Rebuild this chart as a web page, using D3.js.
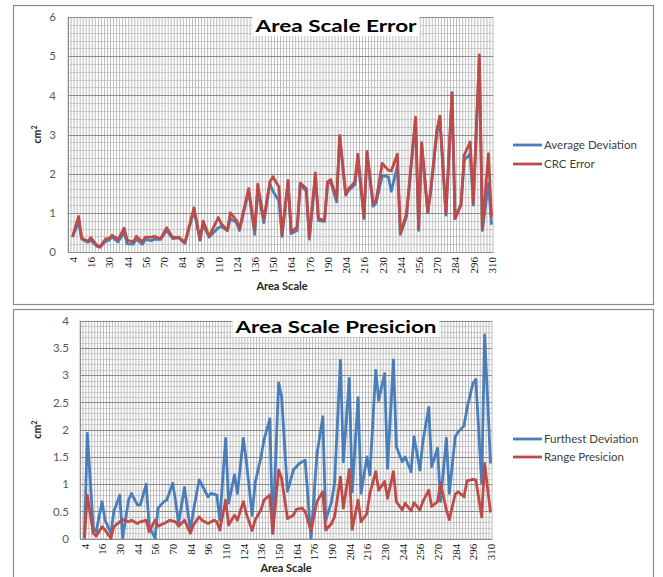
<!DOCTYPE html>
<html><head><meta charset="utf-8">
<script src="https://cdn.jsdelivr.net/npm/d3@7"></script>
<style>body{margin:0;background:#fff}svg{display:block}</style>
</head><body>
<svg id="c" width="663" height="577"></svg>
<script>
// ---- data ----
const xLabels = ["4","16","30","44","56","70","84","96","110","124","136","150","164","176","190","204","216","230","244","256","270","284","296","310"];
const nCats = 140;            // category slots on the axis
const labelStart = 1, labelEvery = 6;

// Chart 1: Area Scale Error
const errIdx = [1,3,4,6,7,9,10,12,13,14,16,18,19,21,22,24,25,27,28,30,32,34,36,38,41,43,44,46,49,50,52,53,55,56,59,61,62,64,66,67,69,70,72,73,75,76,78,79,81,82,84,85,86,88,89,91,92,94,95,97,98,100,101,103,105,106,108,109,111,114,115,116,118,119,121,122,124,126,127,129,130,132,133,135,136,138,139];
const avgDeviation = [0.38,0.78,0.33,0.25,0.30,0.15,0.12,0.28,0.30,0.38,0.26,0.50,0.21,0.20,0.33,0.20,0.32,0.29,0.33,0.32,0.55,0.34,0.36,0.22,1.05,0.30,0.70,0.38,0.62,0.65,0.55,0.85,0.75,0.55,1.55,0.45,1.60,0.75,1.75,1.55,1.30,0.40,1.80,0.47,0.55,1.72,1.55,0.33,1.95,0.80,0.78,1.75,1.80,1.28,2.95,1.45,1.58,1.72,2.35,0.85,2.52,1.17,1.25,1.95,1.92,1.55,2.20,0.45,0.90,3.40,0.55,2.75,1.00,1.55,3.03,3.40,0.94,4.00,0.85,1.20,2.34,2.51,1.20,4.95,0.55,1.75,0.70];
const crcError = [0.40,0.91,0.36,0.27,0.37,0.17,0.13,0.34,0.34,0.43,0.32,0.61,0.30,0.26,0.40,0.26,0.38,0.38,0.40,0.34,0.62,0.37,0.38,0.24,1.13,0.32,0.79,0.40,0.88,0.72,0.55,1.0,0.81,0.60,1.62,0.55,1.73,0.83,1.79,1.92,1.66,0.43,1.83,0.51,0.64,1.76,1.62,0.38,2.02,0.85,0.81,1.79,1.85,1.36,2.98,1.47,1.62,1.79,2.50,0.90,2.57,1.24,1.32,2.26,2.09,2.07,2.50,0.47,0.98,3.44,0.60,2.79,1.02,1.58,3.11,3.47,0.98,4.07,0.85,1.24,2.47,2.81,1.24,5.03,0.60,2.51,0.90];
const errTicks = [0,1,2,3,4,5,6];

// Chart 2: Area Scale Presicion
const furthIdx = [1,2,4,5,7,8,10,11,13,14,16,17,19,20,22,23,25,26,28,29,31,32,33,35,37,38,40,41,43,44,46,47,49,50,52,53,55,56,58,59,61,62,64,65,67,68,70,72,74,76,78,80,82,83,85,86,88,89,91,92,94,95,97,98,100,101,103,104,106,107,109,110,112,113,115,116,118,119,121,122,124,125,127,128,130,131,133,134,136,137,139];
const furthestDeviation = [0.02,1.93,0.19,0.13,0.68,0.34,0.10,0.50,0.80,0.01,0.71,0.83,0.62,0.62,1.0,0.22,0.01,0.56,0.68,0.71,1.02,0.68,0.28,0.94,0.16,0.50,1.08,0.98,0.77,0.83,0.80,0.34,1.84,0.65,1.17,0.83,1.84,1.44,0.43,1.02,1.50,1.81,2.20,0.10,2.86,2.61,0.87,1.26,1.38,1.44,0.01,1.54,2.24,0.34,0.68,1.02,3.27,1.41,2.94,0.86,2.59,0.83,1.50,1.17,3.09,2.54,3.03,1.29,3.28,1.69,1.41,1.50,1.23,1.87,1.26,1.78,2.41,1.32,1.66,0.68,1.84,0.83,1.87,1.96,2.07,2.39,2.85,2.92,1.02,3.74,1.38];
const rangeIdx = [1,2,4,5,7,8,10,11,13,14,16,17,19,20,22,23,25,26,28,30,32,33,35,37,38,40,41,43,45,46,47,49,50,52,53,55,56,58,59,61,62,64,65,67,68,70,72,73,75,76,78,80,82,83,85,86,88,89,91,92,94,95,97,98,100,101,103,104,106,107,109,110,112,113,115,116,118,119,121,122,124,125,127,128,130,131,133,134,136,137,139];
const rangePresicion = [0.0,0.80,0.10,0.05,0.22,0.16,0.01,0.22,0.31,0.35,0.31,0.34,0.28,0.31,0.34,0.13,0.34,0.23,0.28,0.34,0.31,0.23,0.34,0.10,0.25,0.40,0.34,0.28,0.34,0.31,0.16,0.71,0.25,0.43,0.34,0.68,0.46,0.15,0.34,0.53,0.71,0.80,0.10,1.26,1.11,0.37,0.43,0.54,0.56,0.50,0.14,0.68,0.86,0.16,0.28,0.40,1.13,0.56,1.27,0.17,0.71,0.31,0.46,0.83,1.23,0.89,1.05,0.74,1.23,0.68,0.53,0.65,0.51,0.66,0.53,0.68,0.89,0.59,0.68,1.02,0.53,0.35,0.82,0.86,0.77,1.06,1.09,1.08,0.40,1.38,0.48];
const precTicks = [0,0.5,1,1.5,2,2.5,3,3.5,4];

const BLUE = "#4a7ebb", RED = "#be4b48";
const svg = d3.select("#c");

function panel(o){
  const g = svg.append("g");
  g.append("rect").attr("x",o.box[0]+0.5).attr("y",o.box[1]+0.5).attr("width",o.box[2]).attr("height",o.box[3])
    .attr("fill","#fff").attr("stroke","#8a8a8a").attr("stroke-width",1.2);
  const x = d3.scaleLinear().domain([0,nCats]).range([o.left,o.right]);
  const y = d3.scaleLinear().domain([0,o.ymax]).range([o.bottom,o.top]);
  // minor horizontal grid
  g.append("g").selectAll("line").data(d3.range(0,o.ymax+1e-9,o.minor)).join("line")
    .attr("x1",o.left).attr("x2",o.right).attr("y1",d=>Math.round(y(d))+0.5).attr("y2",d=>Math.round(y(d))+0.5)
    .attr("stroke","#d2d2d2").attr("stroke-width",1);
  // vertical grid per category
  g.append("g").selectAll("line").data(d3.range(0,nCats+1)).join("line")
    .attr("x1",d=>x(d)).attr("x2",d=>x(d)).attr("y1",o.top).attr("y2",o.bottom)
    .attr("stroke","#b4b4b4").attr("stroke-width",0.9);
  // major horizontal grid
  g.append("g").selectAll("line").data(o.ticks).join("line")
    .attr("x1",o.left).attr("x2",o.right).attr("y1",d=>Math.round(y(d))+0.5).attr("y2",d=>Math.round(y(d))+0.5)
    .attr("stroke","#8c8c8c").attr("stroke-width",1);
  // title with white backing
  g.append("rect").attr("x",o.titleX-o.titleW/2-3).attr("y",o.titleY-15).attr("width",o.titleW+6).attr("height",19).attr("fill","#fff");
  g.append("text").attr("x",o.titleX).attr("y",o.titleY).attr("text-anchor","middle")
    .attr("font-family","Lato, 'Open Sans', sans-serif").attr("font-weight","bold").attr("font-size",17.5)
    .attr("fill","#000").attr("textLength",o.titleW).attr("lengthAdjust","spacingAndGlyphs").text(o.title);
  // y axis
  const ya = g.append("g").attr("transform",`translate(${o.left},0)`)
    .call(d3.axisLeft(y).tickValues(o.ticks).tickSize(0).tickPadding(o.ypad).tickFormat(d3.format("")));
  ya.select(".domain").attr("stroke","#8c8c8c");
  ya.selectAll("text").attr("font-family","Lato, 'Open Sans', sans-serif").attr("font-size",11.5).attr("fill","#595959");
  // x axis
  const tickIdx = xLabels.map((_,k)=>labelStart+k*labelEvery);
  const xa = g.append("g").attr("transform",`translate(0,${o.bottom})`)
    .call(d3.axisBottom(x).tickValues(tickIdx.map(i=>i+0.5)).tickSize(0).tickFormat((d,k)=>xLabels[k]));
  xa.select(".domain").attr("stroke","#8c8c8c");
  xa.selectAll("text").attr("font-family","'Liberation Serif', serif").attr("font-size",11).attr("fill","#111")
    .attr("text-anchor","end").attr("transform","rotate(-90)").attr("x",-5).attr("y",0).attr("dy","0.35em");
  // axis titles
  g.append("text").attr("x",o.xtX).attr("y",o.xtY).attr("text-anchor","middle")
    .attr("font-family","Lato, 'Open Sans', sans-serif").attr("font-weight","bold").attr("font-size",11).attr("fill","#222").text("Area Scale");
  const yt = g.append("text").attr("transform",`translate(${o.ytX},${(o.top+o.bottom)/2}) rotate(-90)`).attr("text-anchor","middle")
    .attr("font-family","Lato, 'Open Sans', sans-serif").attr("font-weight","bold").attr("font-size",10.5).attr("fill","#222");
  yt.append("tspan").text("cm");
  yt.append("tspan").attr("dy",-4).attr("font-size",7).text("2");
  // series
  const line = d3.line().x(d=>x(d[0]+0.5)).y(d=>y(d[1]));
  o.series.forEach((s,k)=>{
    const pts = s.idx.map((i,j)=>[i,s.vals[j]]);
    g.append("path").attr("d",line(pts)).attr("fill","none").attr("stroke",s.color).attr("stroke-width",2.8)
      .attr("stroke-linejoin","round");
    // legend
    const ly = o.legY + k*o.legGap;
    g.append("line").attr("x1",513).attr("x2",542).attr("y1",ly).attr("y2",ly).attr("stroke",s.color).attr("stroke-width",2.8);
    g.append("text").attr("x",544).attr("y",ly).attr("dy","0.35em").attr("font-family","Lato, 'Open Sans', sans-serif")
      .attr("font-size",11.5).attr("fill","#404040").text(s.name);
  });
}

panel({box:[13,5,640,299], left:68, right:493, top:17, bottom:252, ymax:6, minor:0.2, ticks:errTicks, ypad:12,
  title:"Area Scale Error", titleX:336, titleY:32, titleW:161, xtX:282, xtY:290, ytX:41, legY:145, legGap:19,
  series:[{name:"Average Deviation", idx:errIdx, vals:avgDeviation, color:BLUE},
          {name:"CRC Error", idx:errIdx, vals:crcError, color:RED}]});
panel({box:[13,309,640,280], left:80, right:492, top:320.7, bottom:538.7, ymax:4, minor:0.1, ticks:precTicks, ypad:11,
  title:"Area Scale Presicion", titleX:336, titleY:333, titleW:201, xtX:286, xtY:572, ytX:41, legY:439, legGap:18,
  series:[{name:"Furthest Deviation", idx:furthIdx, vals:furthestDeviation, color:BLUE},
          {name:"Range Presicion", idx:rangeIdx, vals:rangePresicion, color:RED}]});
</script>
</body></html>
